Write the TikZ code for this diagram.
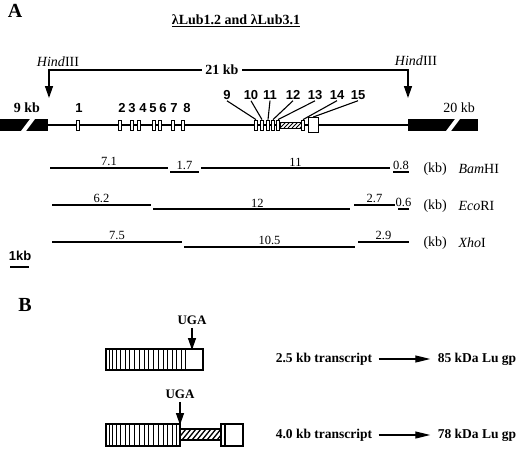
\documentclass[tikz,border=0pt]{standalone}
\usepackage{fontspec}
\setmainfont{Liberation Serif}
\newfontfamily\hvfont{Liberation Sans}
\usetikzlibrary{arrows.meta}

\begin{document}
\begin{tikzpicture}[x=1pt, y=-1pt,
    exon/.style={rectangle, draw, fill=white, line width=0.8pt, inner sep=0pt, minimum width=3.5pt, minimum height=10pt},
    num/.style={font=\hvfont\bfseries\fontsize{13}{15}\selectfont, inner sep=1pt},
    lab/.style={font=\fontsize{14}{16}\selectfont},
    blab/.style={font=\bfseries\fontsize{14}{16}\selectfont},
    tlab/.style={font=\bfseries\fontsize{13.5}{16}\selectfont},
    frag/.style={line width=2pt},
    flab/.style={font=\fontsize{12.5}{14}\selectfont, inner sep=1pt},
    tip/.style={-{Triangle[length=12pt, width=8pt]}, line width=1.4pt},
    ptip/.style={-{Triangle[length=15pt, width=7pt]}, line width=1.2pt, shorten <=3pt, shorten >=4pt}]
    \useasboundingbox (0,0) rectangle (520,450);

    % panel A
    \node (pa) at (15,11) [font=\bfseries\fontsize{20}{22}\selectfont] {A};
    \node (title) at (236,21) [blab] {\underline{λLub1.2 and λLub3.1}};
    \node (hindL) at (58,62) [lab] {\textit{Hind}III};
    \node (hindR) at (416,61) [lab] {\textit{Hind}III};
    \node (kb21) at (222,70) [blab, fill=white] {21 kb};
    \coordinate (hL) at (49,98);
    \coordinate (hR) at (408,98);
    \draw[tip] (kb21.west) -| (hL);
    \draw[tip] (kb21.east) -| (hR);

    % genomic line
    \coordinate (gL) at (48,125);
    \coordinate (gR) at (408,125);
    \draw[line width=1.5pt] (gL) -- (gR);
    \fill (0,119) rectangle (48,131);
    \fill[white] (21,131) -- (26,131) -- (35,119) -- (30,119) -- cycle;
    \fill (408,119) rectangle (478,131);
    \fill[white] (446,131) -- (451,131) -- (460,119) -- (455,119) -- cycle;
    \node (kb9) at (27,108) [blab] {9 kb};
    \node (kb20) at (459,108) [lab] {20 kb};

    % exons 1-8
    \node (e1) at (78,125) [exon] {};
    \node (e2) at (120,125) [exon] {};
    \node (e3) at (132,125) [exon] {};
    \node (e4) at (139,125) [exon] {};
    \node (e5) at (154,125) [exon] {};
    \node (e6) at (160,125) [exon] {};
    \node (e7) at (173,125) [exon] {};
    \node (e8) at (183,125) [exon] {};
    \node (n1) at (79,108) [num] {1};
    \node (n2) at (122,108) [num] {2};
    \node (n3) at (132,108) [num] {3};
    \node (n4) at (143,108) [num] {4};
    \node (n5) at (153,108) [num] {5};
    \node (n6) at (163,108) [num] {6};
    \node (n7) at (174,108) [num] {7};
    \node (n8) at (187,108) [num] {8};

    % exons 9-15, hatched 3' part
    \fill[white] (280,122) rectangle (301,128);
    \begin{scope}
        \clip (280,122) rectangle (301,128);
        \foreach \x in {276,280,...,304}
            \draw[line width=0.9pt] (\x,128) -- (\x+6,122);
    \end{scope}
    \draw[line width=0.8pt] (280,122) rectangle (301,128);
    \node (e9) at (256,125) [exon] {};
    \node (e10) at (262,125) [exon] {};
    \node (e11) at (268,125) [exon] {};
    \node (e12) at (273,125) [exon] {};
    \node (e13) at (278,125) [exon] {};
    \node (e14) at (303,125) [exon] {};
    \node (e15) at (313,125) [exon, minimum width=10pt, minimum height=15pt] {};
    \node (n9) at (227,95) [num] {9};
    \node (n10) at (251,95) [num] {10};
    \node (n11) at (270,95) [num] {11};
    \node (n12) at (293,95) [num] {12};
    \node (n13) at (315,95) [num] {13};
    \node (n14) at (337,95) [num] {14};
    \node (n15) at (358,95) [num] {15};
    \draw[line width=1.1pt] (n9.south) -- (e9.north);
    \draw[line width=1.1pt] (n10.south) -- (e10.north);
    \draw[line width=1.1pt] (n11.south) -- (e11.north);
    \draw[line width=1.1pt] (n12.south) -- (e12.north);
    \draw[line width=1.1pt] (n13.south) -- (e13.north);
    \draw[line width=1.1pt] (n14.south) -- (e14.north);
    \draw[line width=1.1pt] (n15.south) -- (e15.north);

    % BamHI
    \draw[frag] (50,168) -- (168,168) node[flab, midway, above] (b1) {7.1};
    \draw[frag] (170,172) -- (199,172) node[flab, midway, above] (b2) {1.7};
    \draw[frag] (201,168) -- (390,168) node[flab, midway, above] (b3) {11};
    \draw[frag] (393,172) -- (409,172) node[flab, midway, above] (b4) {0.8};
    \node (kbb) at (420,169) [lab, anchor=west] {(kb)};
    \node (bam) at (455,169) [lab, anchor=west] {\textit{Bam}HI};

    % EcoRI
    \draw[frag] (52,205) -- (151,205) node[flab, midway, above] (r1) {6.2};
    \draw[frag] (153,209) -- (350,209) node[flab, pos=0.53, above] (r2) {12};
    \draw[frag] (354,205) -- (395,205) node[flab, midway, above] (r3) {2.7};
    \draw[frag] (398,209) -- (409,209) node[flab, midway, above] (r4) {0.6};
    \node (kbe) at (420,206) [lab, anchor=west] {(kb)};
    \node (eco) at (455,206) [lab, anchor=west] {\textit{Eco}RI};

    % XhoI
    \draw[frag] (52,242) -- (182,242) node[flab, midway, above] (x1) {7.5};
    \draw[frag] (184,247) -- (355,247) node[flab, midway, above] (x2) {10.5};
    \draw[frag] (358,242) -- (409,242) node[flab, midway, above] (x3) {2.9};
    \node (kbx) at (420,243) [lab, anchor=west] {(kb)};
    \node (xho) at (455,243) [lab, anchor=west] {\textit{Xho}I};

    % scale bar
    \node (kb1) at (20,256) [num] {1kb};
    \draw[line width=2.5pt] (10,267) -- (29,267);

    % panel B
    \node (pb) at (25,305) [font=\bfseries\fontsize{20}{22}\selectfont] {B};

    % 2.5 kb transcript
    \foreach \x in {109,112,116,120,125,129,134,139,144,148,153,158,163,167,172,176,181,185}
        \draw[line width=0.9pt] (\x,349) -- (\x,370);
    \draw[line width=1.4pt] (106,349) rectangle (203,370);
    \node (uga1) at (192,320) [font=\bfseries\fontsize{13}{15}\selectfont] {UGA};
    \coordinate (s1) at (192,350);
    \draw[tip] (uga1) -- (s1);

    % 4.0 kb transcript
    \foreach \x in {109,112,116,120,125,129,134,139,144,148,153,158,163,167,172,176}
        \draw[line width=0.9pt] (\x,424) -- (\x,446);
    \draw[line width=1.4pt] (106,424) rectangle (180,446);
    \begin{scope}
        \clip (180,429) rectangle (221,440);
        \foreach \x in {172,177,...,227}
            \draw[line width=1.3pt] (\x,440) -- (\x+9,429);
    \end{scope}
    \draw[line width=1.2pt] (180,429) rectangle (221,440);
    \draw[line width=1.4pt] (221,424) rectangle (243,446);
    \draw[line width=1.1pt] (225,424) -- (225,446);
    \node (uga2) at (180,394) [font=\bfseries\fontsize{13}{15}\selectfont] {UGA};
    \coordinate (s2) at (180,425);
    \draw[tip] (uga2) -- (s2);

    % products
    \node (t1) at (324,359) [tlab] {2.5 kb transcript};
    \node (p1) at (477,359) [tlab] {85 kDa Lu gp};
    \draw[ptip] (t1) -- (p1);
    \node (t2) at (324,435) [tlab] {4.0 kb transcript};
    \node (p2) at (477,435) [tlab] {78 kDa Lu gp};
    \draw[ptip] (t2) -- (p2);
\end{tikzpicture}
\end{document}
